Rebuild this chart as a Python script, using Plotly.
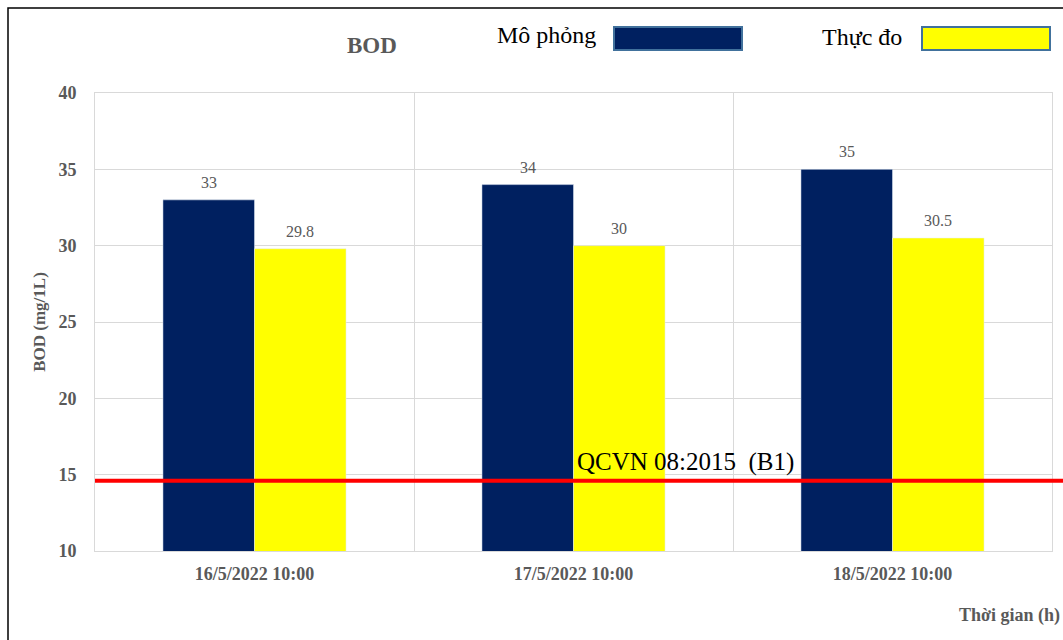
import plotly.graph_objects as go

# Sampling times and BOD values (mg/L)
times = ["16/5/2022 10:00", "17/5/2022 10:00", "18/5/2022 10:00"]
mo_phong = [33, 34, 35]
thuc_do = [29.8, 30, 30.5]
qcvn_b1 = 14.6

NAVY = "#002060"
YELLOW = "#FFFF00"
GREY = "#595959"
GRID = "#D9D9D9"
FONT = "Liberation Serif"

fig = go.Figure()
fig.add_trace(go.Bar(x=times, y=mo_phong, name="Mô phỏng", marker_color=NAVY,
                     showlegend=False))
fig.add_trace(go.Bar(x=times, y=thuc_do, name="Thực đo", marker_color=YELLOW,
                     showlegend=False))

L, R, T, B = 95, 11, 93, 89
W, H = 1063, 640
pw, ph = W - L - R, H - T - B


def px(x):
    return (x - L) / pw


def py(y):
    return (H - B - y) / ph


shapes = [
    # outer frame
    dict(type="rect", xref="paper", yref="paper",
         x0=px(8), x1=px(1075), y0=py(8), y1=py(660),
         line=dict(color="black", width=1.5), fillcolor="rgba(0,0,0,0)", layer="below"),
    # QCVN limit line
    dict(type="line", xref="paper", yref="y",
         x0=0, x1=px(1070), y0=qcvn_b1, y1=qcvn_b1,
         line=dict(color="#FF0000", width=4)),
    # legend swatches
    dict(type="rect", xref="paper", yref="paper",
         x0=px(614), x1=px(742), y0=py(50), y1=py(27),
         line=dict(color="#41719C", width=2), fillcolor=NAVY),
    dict(type="rect", xref="paper", yref="paper",
         x0=px(922), x1=px(1050), y0=py(50), y1=py(27),
         line=dict(color="#41719C", width=2), fillcolor=YELLOW),
]

annotations = [
    dict(text="<b>BOD</b>", xref="paper", yref="paper", x=px(345), y=py(46),
         yanchor="middle", showarrow=False, font=dict(family=FONT, size=23, color=GREY)),
    dict(text="Mô phỏng", xref="paper", yref="paper", x=px(598), y=py(35),
         xanchor="right", yanchor="middle", showarrow=False,
         font=dict(family=FONT, size=24, color="black")),
    dict(text="Thực đo", xref="paper", yref="paper", x=px(904), y=py(37),
         xanchor="right", yanchor="middle", showarrow=False,
         font=dict(family=FONT, size=24, color="black")),
    dict(text="QCVN 08:2015\u00a0\u00a0(B1)", xref="paper", yref="paper",
         x=px(575), y=py(462), xanchor="left", yanchor="middle", showarrow=False,
         font=dict(family=FONT, size=25, color="black")),
    dict(text="<b>Thời gian (h)</b>", xref="paper", yref="paper",
         x=px(1062), y=py(615), xanchor="right", yanchor="middle", showarrow=False,
         font=dict(family=FONT, size=18, color=GREY)),
]

# value labels above each bar
half = 0.5 * (1 - 0.426) * pw / 3 / 2
for series, sign in ((mo_phong, -1), (thuc_do, 1)):
    for t, v in zip(times, series):
        annotations.append(dict(
            text=str(v), x=t, y=v, xref="x", yref="y", xshift=sign * half,
            yanchor="bottom", yshift=7, showarrow=False,
            font=dict(family=FONT, size=16, color=GREY)))

fig.update_layout(
    width=W, height=H,
    margin=dict(l=L, r=R, t=T, b=B),
    paper_bgcolor="white", plot_bgcolor="white",
    barmode="group", bargap=0.426, bargroupgap=0,
    shapes=shapes, annotations=annotations,
    font=dict(family=FONT),
)
fig.update_xaxes(
    type="category", tickson="boundaries", showgrid=True, gridcolor=GRID,
    showline=True, linecolor=GRID, mirror=True, ticks="",
    tickfont=dict(family=FONT, size=18, color=GREY),
    tickprefix="<b>", ticksuffix="</b>", ticklabelstandoff=6,
)
fig.update_yaxes(
    range=[10, 40], dtick=5, showgrid=True, gridcolor=GRID,
    showline=True, linecolor=GRID, mirror=True, ticks="",
    tickfont=dict(family=FONT, size=18, color=GREY),
    tickprefix="<b>", ticksuffix="</b>", ticklabelstandoff=14,
    title=dict(text="<b>BOD (mg/1L)</b>", standoff=8,
               font=dict(family=FONT, size=17, color=GREY)),
    zeroline=False,
)

fig.write_html("out.html")
